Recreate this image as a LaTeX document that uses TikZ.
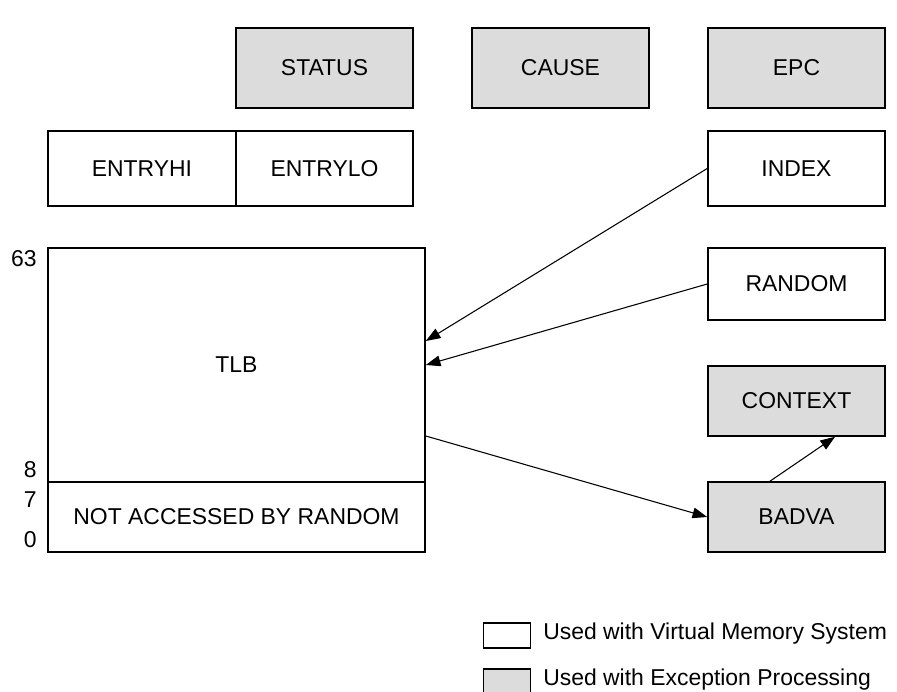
\documentclass[tikz,border=0pt]{standalone}
\usepackage{fontspec}
\setmainfont{Liberation Sans}
\usetikzlibrary{arrows.meta,calc}
\definecolor{regfill}{HTML}{DCDCDC}
\begin{document}
\begin{tikzpicture}[x=0.75pt,y=-0.75pt,
  reg/.style={draw=black,line width=1.2pt,rectangle,inner sep=0pt,
    minimum width=132.75pt,font=\fontsize{17.2}{20}\selectfont},
  vm/.style={reg,fill=white},
  ex/.style={reg,fill=regfill},
  conn/.style={line width=0.8pt,-{Triangle[length=11pt,width=8pt]}},
  num/.style={anchor=east,inner sep=0pt,font=\fontsize{17.2}{20}\selectfont},
  legtext/.style={anchor=west,inner sep=0pt,font=\fontsize{17.2}{20}\selectfont}]
\useasboundingbox (0,0) rectangle (897,692);
% top row
\node[ex,minimum height=60pt] (status) at (324.5,68) {STATUS};
\node[ex,minimum height=60pt] (cause) at (560.5,68) {CAUSE};
\node[ex,minimum height=60pt] (epc) at (796.5,68) {EPC};
% entry row
\node[vm,minimum height=56.25pt,minimum width=141pt] (entryhi) at (142,168.5) {ENTRYHI};
\node[vm,minimum height=56.25pt] (entrylo) at (324.5,168.5) {ENTRYLO};
\node[vm,minimum height=56.25pt] (index) at (796.5,168.5) {INDEX};
% TLB
\node[vm,minimum height=175.5pt,minimum width=282.75pt] (tlb) at (236.5,365) {TLB};
\node[vm,minimum height=52.5pt,minimum width=282.75pt] (notacc) at (236.5,517) {NOT ACCESSED BY RANDOM};
% right column
\node[vm,minimum height=54pt] (random) at (796.5,284) {RANDOM};
\node[ex,minimum height=52.5pt] (context) at (796.5,401) {CONTEXT};
\node[ex,minimum height=52.5pt] (badva) at (796.5,517) {BADVA};
% numbers
\node[num] (n63) at (37,259) {63};
\node[num] (n8) at (37,470) {8};
\node[num] (n7) at (37,500) {7};
\node[num] (n0) at (37,540) {0};
% connectors
\draw[conn] (index.west) -- ([yshift=18pt]tlb.east);
\draw[conn] (random.west) -- (tlb.east);
\draw[conn] ([yshift=-53.25pt]tlb.east) -- (badva.west);
\draw[conn] ([xshift=-19.9pt]badva.north) -- ([xshift=28.9pt]context.south);
% legend
\node[draw=black,line width=1.2pt,fill=white,minimum width=35.25pt,minimum height=18.75pt,inner sep=0pt] (legvm) at (507,635.5) {};
\node[draw=black,line width=1.2pt,fill=regfill,minimum width=35.25pt,minimum height=18.75pt,inner sep=0pt] (legex) at (507,681.5) {};
\node[legtext] (legvmt) at (543,634) {Used with Virtual Memory System};
\node[legtext] (legext) at (543,680) {Used with Exception Processing};
\end{tikzpicture}
\end{document}
